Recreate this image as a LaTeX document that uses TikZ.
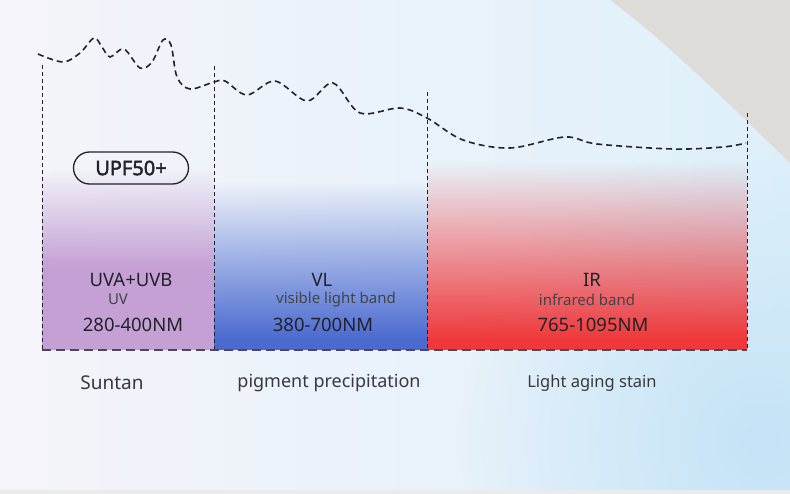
\documentclass[tikz,border=0pt]{standalone}
\usepackage{fontspec}
\setmainfont{Noto Sans}[AutoFakeBold=2.2]
\usetikzlibrary{positioning, calc, fadings}
\definecolor{uvpurple}{RGB}{196,160,212}
\definecolor{vlblue}{RGB}{74,106,208}
\definecolor{irred}{RGB}{240,56,58}
\definecolor{bgwhite}{RGB}{245,244,250}
\definecolor{bgcyan}{RGB}{222,240,250}
\definecolor{bgblue}{RGB}{190,224,246}
\definecolor{cornergrey}{RGB}{222,220,216}
\definecolor{inkdark}{RGB}{34,34,42}
\definecolor{baseink}{RGB}{78,70,96}
\tikzfading[name=uvfade, top color=transparent!100, middle color=transparent!55, bottom color=transparent!0]
\tikzfading[name=vlfade, top color=transparent!100, middle color=transparent!45, bottom color=transparent!0]
\tikzfading[name=irfade, top color=transparent!100, middle color=transparent!45, bottom color=transparent!0]
\tikzfading[name=softblob, inner color=transparent!20, outer color=transparent!100]

\begin{document}
\begin{tikzpicture}[x=1pt, y=-1pt,
    band/.style={text=inkdark, font=\fontsize{18.5}{20}\selectfont},
    subband/.style={text=inkdark!85, font=\fontsize{15}{17}\selectfont},
    effect/.style={text=inkdark!90},
    divider/.style={inkdark, line width=0.9, dash pattern=on 4 off 3},
    curve/.style={inkdark, line width=1.6, dash pattern=on 6 off 4}]
\useasboundingbox (0,0) rectangle (790,494);
% background
\shade[left color=bgwhite, right color=bgcyan] (0,0) rectangle (790,494);
\fill[bgblue, path fading=softblob] (760,440) circle (300);
\fill[cornergrey] (610,0) .. controls (670,45) and (730,105) .. (790,163) -- (790,0) -- cycle;
\fill[black!8] (0,490) rectangle (790,494);

% spectrum bands
\fill[uvpurple, path fading=uvfade] (42,168) rectangle (214,268);
\fill[uvpurple] (42,268) rectangle (214,350);
\fill[vlblue, path fading=vlfade] (214,182) rectangle (427,340);
\fill[vlblue] (214,340) rectangle (427,350);
\fill[irred, path fading=irfade] (427,162) rectangle (747,340);
\fill[irred] (427,340) rectangle (747,350);

\coordinate (uvtop) at (42,65);
\coordinate (uvbot) at (42,350);
\coordinate (vltop) at (214,66);
\coordinate (vlbot) at (214,350);
\coordinate (irtop) at (427,92);
\coordinate (irbot) at (427,350);
\coordinate (endtop) at (747,113);
\coordinate (endbot) at (747,350);

\draw[divider] (uvtop) -- (uvbot);
\draw[divider] (vltop) -- (vlbot);
\draw[divider] (irtop) -- (irbot);
\draw[divider] (endtop) -- (endbot);
\draw[baseink, line width=2, dash pattern=on 9 off 5] (uvbot) -- (endbot);

% absorption curve
\draw[curve] plot[smooth, tension=0.55] coordinates {(38,54) (63,62) (80,53) (94,38) (102,47) (110,57)
    (124,49) (140,68) (152,62) (163,40) (171,45) (177,77) (190,89) (214,82) (225,81) (247,95)
    (275,81) (307,101) (333,83) (360,113) (400,108) (427,118) (463,140) (510,148) (565,137)
    (597,144) (673,149) (723,147) (746,143)};

\node[draw=inkdark, line width=1.3, rounded corners=16, minimum width=115, minimum height=32,
    text=inkdark, font=\bfseries\fontsize{20}{22}\selectfont] (upf) at (131,168) {UPF50+};

\node[band] (uva) at (131,280) {UVA+UVB};
\node[subband] (uvname) at (118,299) {UV};
\node[band] (uvrange) at (133,325) {280-400NM};

\node[band] (vl) at (322,280) {VL};
\node[subband] (vlname) at (336,300) {visible light band};
\node[band] (vlrange) at (323,325) {380-700NM};

\node[band] (ir) at (592,280) {IR};
\node[subband] (irname) at (587,300) {infrared band};
\node[band] (irrange) at (593,325) {765-1095NM};

\node[effect, font=\fontsize{19}{21}\selectfont] (suntan) at (112,383) {Suntan};
\node[effect, font=\fontsize{18}{20}\selectfont] (pigment) at (329,383) {pigment precipitation};
\node[effect, font=\fontsize{16.5}{18}\selectfont] (aging) at (592,383) {Light aging stain};
\end{tikzpicture}
\end{document}
